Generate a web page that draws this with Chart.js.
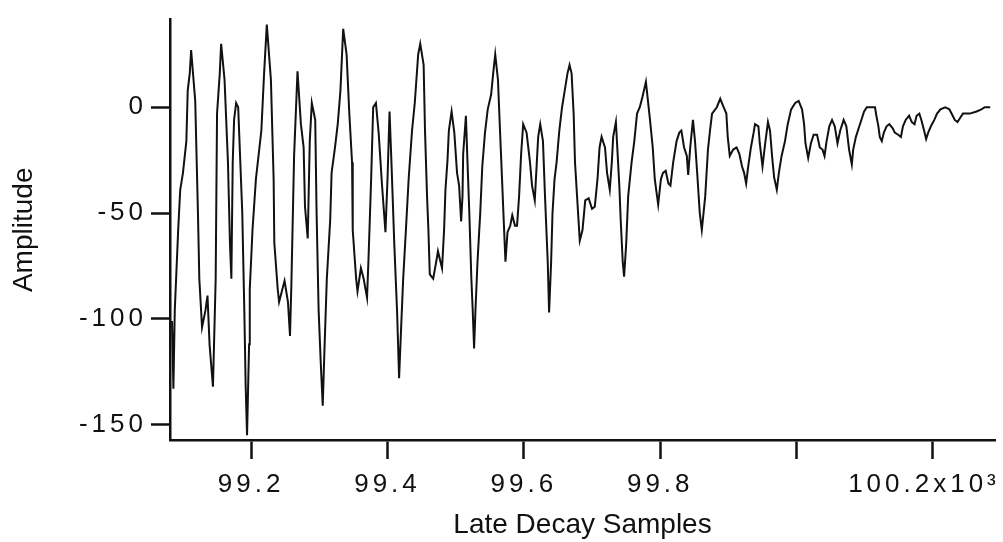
<!DOCTYPE html>
<html>
<head>
<meta charset="utf-8">
<script src="https://cdn.jsdelivr.net/npm/chart.js@4/dist/chart.umd.min.js"></script>
<style>
  html, body { margin: 0; padding: 0; background: #fff; }
  #wrap { width: 1003px; height: 542px; position: relative; }
</style>
</head>
<body>
<div id="wrap"><canvas id="decay-canvas"></canvas></div>
<script>
// sample index and amplitude at that sample
var samples = [
  99084, 99086, 99088, 99093, 99096, 99100, 99105, 99107, 99110, 99112,
  99118, 99122, 99124, 99128, 99133, 99136, 99139, 99144, 99148, 99150,
  99154, 99156, 99161, 99166, 99169, 99171, 99173, 99175, 99178, 99181,
  99187, 99190, 99192, 99194, 99197, 99198, 99202, 99207, 99215, 99219,
  99223, 99229, 99233, 99234, 99239, 99241, 99249, 99254, 99257, 99259,
  99263, 99268, 99273, 99277, 99279, 99283, 99286, 99289, 99294, 99296,
  99299, 99302, 99305, 99307, 99311, 99316, 99318, 99323, 99327, 99331,
  99335, 99340, 99344, 99348, 99349, 99354, 99356, 99361, 99365, 99370,
  99372, 99376, 99379, 99383, 99387, 99392, 99397, 99400, 99403, 99406,
  99410, 99414, 99417, 99420, 99423, 99427, 99431, 99436, 99440, 99445,
  99448, 99453, 99455, 99458, 99460, 99462, 99467, 99472, 99474, 99477,
  99480, 99483, 99485, 99488, 99490, 99494, 99498, 99502, 99505, 99508,
  99510, 99511, 99515, 99517, 99520, 99523, 99525, 99527, 99529, 99532,
  99536, 99539, 99543, 99547, 99552, 99555, 99558, 99562, 99565, 99568,
  99570, 99573, 99576, 99580, 99583, 99587, 99590, 99593, 99596, 99599,
  99604, 99609, 99612, 99616, 99619, 99621, 99624, 99628, 99631, 99635,
  99637, 99640, 99642, 99645, 99648, 99652, 99656, 99660, 99664, 99667,
  99670, 99673, 99675, 99678, 99682, 99686, 99690, 99695, 99700, 99704,
  99708, 99711, 99714, 99719, 99722, 99726, 99729, 99731, 99735, 99737,
  99740, 99742, 99745, 99747, 99750, 99753, 99758, 99762, 99766, 99770,
  99774, 99779, 99782, 99785, 99789, 99792, 99797, 99801, 99804, 99808,
  99812, 99815, 99819, 99824, 99828, 99831, 99835, 99839, 99841, 99844,
  99848, 99851, 99854, 99858, 99861, 99866, 99870, 99873, 99876, 99883,
  99888, 99893, 99897, 99899, 99902, 99907, 99912, 99916, 99920, 99923,
  99926, 99929, 99933, 99937, 99939, 99944, 99946, 99950, 99954, 99958,
  99961, 99964, 99967, 99971, 99974, 99978, 99983, 99987, 99992, 99998,
  100003, 100008, 100011, 100013, 100017, 100021, 100025, 100030, 100034, 100038,
  100041, 100044, 100048, 100052, 100056, 100060, 100064, 100069, 100073, 100077,
  100081, 100083, 100087, 100092, 100095, 100099, 100103, 100115, 100117, 100120,
  100122, 100125, 100128, 100132, 100136, 100141, 100144, 100149, 100153, 100156,
  100160, 100165, 100169, 100173, 100176, 100180, 100183, 100187, 100190, 100193,
  100197, 100202, 100206, 100211, 100218, 100224, 100229, 100232, 100236, 100240,
  100244, 100254, 100264, 100271, 100276, 100284
];
var amplitude = [
  -101, -133, -96, -58, -39, -31, -16, 8, 16, 27,
  3, -50, -81, -104, -96, -89, -112, -132, -81, -3,
  16, 30, 13, -26, -65, -81, -26, -6, 2, 0,
  -50, -96, -132, -155, -112, -86, -58, -34, -11, 16,
  39, 13, -34, -64, -86, -92, -82, -92, -108, -84,
  -23, 17, -8, -19, -47, -62, -16, 2, -6, -50,
  -96, -120, -141, -120, -81, -53, -31, -19, -8, 8,
  37, 25, -3, -26, -58, -81, -87, -76, -81, -90,
  -73, -34, 0, 2, -12, -37, -59, -34, -2, -28,
  -65, -96, -128, -104, -81, -58, -34, -11, 2, 25,
  30, 20, -11, -42, -58, -79, -81, -72, -68, -72,
  -76, -58, -39, -25, -11, -2, -12, -31, -37, -54,
  -42, -22, -4, -23, -50, -81, -96, -114, -96, -73,
  -50, -28, -12, -1, 6, 16, 25, 13, -11, -34,
  -50, -73, -59, -56, -51, -56, -56, -42, -22, -8,
  -12, -26, -37, -44, -26, -14, -8, -16, -42, -73,
  -97, -73, -50, -34, -26, -11, 0, 8, 16, 20,
  16, -3, -26, -42, -63, -58, -44, -43, -48, -47,
  -34, -19, -14, -19, -31, -39, -26, -14, -7, -19,
  -37, -53, -73, -80, -65, -42, -26, -16, -3, 0,
  5, 12, 3, -6, -19, -34, -46, -34, -31, -30,
  -36, -37, -26, -16, -12, -11, -19, -23, -32, -19,
  -6, -16, -30, -50, -58, -42, -20, -11, -3, 0,
  4, 0, -3, -14, -23, -20, -19, -22, -28, -31,
  -36, -28, -19, -12, -8, -9, -17, -28, -17, -7,
  -11, -23, -33, -39, -31, -23, -16, -8, -1, 2,
  3, -1, -8, -17, -24, -17, -13, -13, -19, -20,
  -23, -16, -9, -6, -9, -17, -11, -6, -9, -20,
  -27, -20, -14, -9, -6, -2, 0, 0, -4, -9,
  -14, -16, -12, -9, -8, -10, -12, -13, -14, -9,
  -6, -4, -7, -8, -4, -3, -6, -11, -15, -12,
  -9, -6, -3, -1, 0, -1, -4, -6, -7, -5,
  -3, -3, -2, -1, 0, 0
];

var xTicks = [99200, 99400, 99600, 99800, 100000, 100200];
var xTickLabels = ['99.2', '99.4', '99.6', '99.8', '', '100.2x10\u00b3'];
var yTicks = [0, -50, -100, -150];

var xMin = 99081, xMax = 100291;
var yMin = -157.2, yMax = 41.4;

var ink = '#111';
var tickFont = { family: 'Liberation Sans, Arial, Helvetica, sans-serif', size: 26 };
var titleFont = { family: 'Liberation Sans, Arial, Helvetica, sans-serif', size: 28 };

var points = samples.map(function(s, i) {
    return { x: s, y: amplitude[i] };
});

// tick labels are drawn spaced out, axis titles are not;
// the last x label (with its exponent) sits a little left of its tick
var tickSpacing = {
    id: 'tickSpacing',
    beforeDraw: function(chart) {
        chart.ctx.letterSpacing = '4px';
        Object.values(chart.scales).forEach(function(scale) {
            if (scale._plainTitle) return;
            var drawTitle = scale.drawTitle;
            scale.drawTitle = function() {
                this.ctx.letterSpacing = '0px';
                drawTitle.call(this);
                this.ctx.letterSpacing = '4px';
            };
            scale._plainTitle = true;
        });
        var items = chart.scales.x.getLabelItems();
        var last = items[items.length - 1];
        if (last && !last._shifted) {
            last.options.translation[0] -= 9;
            last._shifted = true;
        }
    },
    afterDraw: function(chart) {
        chart.ctx.letterSpacing = '0px';
    }
};

var decayCanvas = document.getElementById('decay-canvas').getContext('2d');

var decayChart = new Chart(decayCanvas, {
    type: 'line',
    data: {
        datasets: [{
            data: points,
            borderColor: ink,
            borderWidth: 2,
            pointRadius: 0,
            tension: 0,
            fill: false
        }]
    },
    plugins: [tickSpacing],
    options: {
        responsive: true,
        maintainAspectRatio: false,
        animation: false,
        layout: {
            padding: { top: 15, right: 8, left: 0, bottom: 0 }
        },
        scales: {
            x: {
                type: 'linear',
                min: xMin,
                max: xMax,
                afterBuildTicks: function(scale) {
                    scale.ticks = xTicks.map(function(v) { return { value: v }; });
                },
                afterFit: function(scale) {
                    scale.height = 102;
                },
                grid: {
                    drawOnChartArea: false,
                    drawTicks: true,
                    tickLength: 19,
                    tickWidth: 2.5,
                    tickColor: ink
                },
                border: { display: true, color: ink, width: 2.5 },
                ticks: {
                    color: ink,
                    font: tickFont,
                    padding: 10,
                    maxRotation: 0,
                    autoSkip: false,
                    callback: function(value, index) {
                        return xTickLabels[index];
                    }
                },
                title: {
                    display: true,
                    text: 'Late Decay Samples',
                    color: ink,
                    font: titleFont,
                    padding: { top: 0, bottom: 0 }
                }
            },
            y: {
                type: 'linear',
                min: yMin,
                max: yMax,
                afterBuildTicks: function(scale) {
                    scale.ticks = yTicks.map(function(v) { return { value: v }; });
                },
                afterFit: function(scale) {
                    scale.width = 170;
                },
                grid: {
                    drawOnChartArea: false,
                    drawTicks: true,
                    tickLength: 19,
                    tickWidth: 2.5,
                    tickColor: ink
                },
                border: { display: true, color: ink, width: 2.5 },
                ticks: {
                    color: ink,
                    font: tickFont,
                    padding: 4,
                    callback: function(value) {
                        return String(value);
                    }
                },
                title: {
                    display: true,
                    text: 'Amplitude',
                    color: ink,
                    font: titleFont,
                    padding: { top: 7, bottom: 0 }
                }
            }
        },
        plugins: {
            legend: { display: false },
            tooltip: { enabled: false }
        }
    }
});
</script>
</body>
</html>
